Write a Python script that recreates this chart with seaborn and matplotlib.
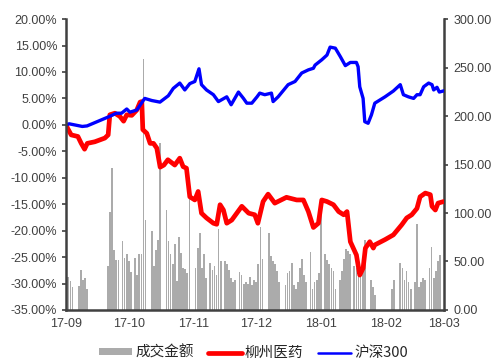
import numpy as np
import pandas as pd
import matplotlib
matplotlib.use('Agg')
import matplotlib.pyplot as plt
import matplotlib.dates as mdates
from matplotlib.patches import Patch
from matplotlib.lines import Line2D
from matplotlib.ticker import FuncFormatter, MultipleLocator
import seaborn as sns

# days counted from 2017-09-01
start = pd.Timestamp('2017-09-01')

bar_day = [0, 1, 2, 3, 6, 7, 8, 9, 10,
           20, 21, 22, 23, 24, 25, 27, 28, 29, 30, 31,
           33, 34, 35, 36, 37, 38, 41, 42, 43, 44, 45,
           48, 49, 50, 51, 52, 53, 54, 55, 56, 57, 58, 59,
           62, 63, 64, 65, 66, 67, 69, 70, 71, 72, 73, 74,
           76, 77, 78, 79, 80, 81, 83, 84, 85, 86, 87, 88,
           89, 90, 91, 92, 93, 94, 97, 98, 99, 100, 101, 102,
           105, 106, 107, 108, 109, 110, 111, 112, 113, 114, 115,
           117, 118, 119, 120, 121, 122, 124, 125, 126, 127, 128, 129,
           131, 132, 133, 134, 135, 136, 138, 139, 140, 141, 142, 143,
           146, 147, 148, 156, 157,
           160, 161, 162, 163, 164, 165, 167, 168, 169, 170, 171, 172,
           174, 175, 176, 177, 178, 179]
bar_vol = [36, 34, 30, 24, 25, 41, 31, 33, 22,
           45, 101, 146, 62, 52, 52, 71, 54, 58, 50, 39,
           54, 36, 58, 58, 259, 93, 81, 45, 62, 72, 172,
           103, 71, 58, 47, 68, 30, 75, 59, 43, 42, 38, 130,
           43, 64, 79, 43, 58, 33, 48, 41, 45, 36, 84, 50,
           51, 47, 41, 33, 29, 31, 39, 36, 27, 29, 27, 34,
           26, 31, 29, 47, 86, 53, 79, 56, 50, 47, 40, 29,
           26, 38, 40, 48, 26, 22, 29, 43, 53, 36, 29,
           60, 22, 29, 31, 38, 100, 58, 52, 47, 43, 40, 22,
           31, 40, 53, 63, 61, 58, 45, 43, 37, 36, 43, 72,
           31, 24, 15, 22, 31,
           48, 43, 31, 40, 29, 22, 29, 89, 24, 29, 33, 31,
           43, 65, 33, 40, 50, 57]

hs_day = [0, 1.4, 7.7, 10, 20.8, 24, 26.5, 29, 30.5, 33.8, 37.6, 41, 44.9, 48.9,
          51.3, 54.4, 56.8, 59.2, 61.6, 63.6, 64.8, 67.2, 70.5, 72.9, 76.9, 79,
          82.5, 84.9, 86.5, 88.9, 91.4, 92.7, 95.1, 98.3, 99.1, 101.5, 106.3,
          109.6, 112.8, 116, 118.4, 119.2, 122.4, 124.9, 126.4, 128.9, 131.3,
          133.7, 136.1, 139, 139.8, 140.6, 142.2, 143, 144.6, 146.2, 147.8,
          152.7, 156.7, 160, 161.5, 163.9, 166.4, 168, 169.5, 171.2, 173.6,
          175.2, 176, 177.6, 178.7, 181.5]
hs_pct = [0.0, 0.2, -0.3, -0.2, 1.6, 2.2, 2.2, 3.0, 2.4, 2.8, 5.0, 4.6, 4.3, 5.5,
          6.9, 7.9, 6.6, 7.8, 8.2, 10.6, 7.6, 6.6, 5.7, 4.4, 5.3, 3.8,
          6.2, 5.0, 4.1, 4.1, 5.3, 6.0, 5.7, 6.0, 4.4, 5.3, 7.6,
          8.2, 9.8, 10.4, 10.7, 11.3, 12.3, 13.2, 14.7, 14.5, 12.9,
          11.2, 11.8, 11.8, 11.0, 7.2, 5.0, 0.6, 0.3, 1.9, 4.1,
          5.3, 6.4, 7.6, 5.7, 5.3, 5.0, 5.7, 5.7, 7.2, 7.9,
          7.6, 6.6, 7.1, 6.2, 6.5]

lz_day = [0, 0.6, 2.4, 5.6, 7.2, 8.8, 10.1, 13.7, 18.5, 20.1, 20.9, 23.3, 25.7,
          27.5, 29, 31.4, 33.8, 35.4, 36.2, 36.7, 38.6, 40.2, 41.8, 43.4, 45,
          46.8, 48.7, 52, 54.4, 56, 57.6, 59.2, 61.6, 63.2, 64.8, 67.2, 70.5,
          72.1, 73.7, 75.3, 76.9, 79.3, 84.1, 87.4, 90.3, 91.8, 94.3, 96.7,
          99.9, 105.5, 110.4, 113.6, 116, 118.4, 120.8, 122.4, 124.9, 128,
          130.5, 132.9, 134.5, 136.1, 139, 140.6, 142.2, 143.3, 145.4, 147.1,
          147.8, 152.7, 156.7, 160.7, 163.1, 165.5, 168, 169.5, 172, 174.4,
          175.2, 176.8, 178.1, 180.8]
lz_pct = [0.0, -0.6, -1.9, -2.2, -3.5, -4.6, -3.5, -3.2, -2.5, -1.9, 1.9, 2.2, 1.6,
          0.7, 1.9, 1.8, 2.8, 4.3, 4.4, -0.9, -1.6, -3.5, -3.5, -4.4, -8.0,
          -7.6, -6.6, -7.6, -6.3, -7.9, -8.2, -13.6, -14.2, -12.6, -16.7, -17.6, -18.6,
          -18.8, -15.1, -16.1, -18.6, -18.0, -15.4, -16.7, -17.0, -18.6, -14.5, -13.1,
          -14.8, -13.7, -14.2, -14.2, -16.4, -19.4, -18.6, -14.2, -14.5, -15.1,
          -16.4, -17.0, -16.4, -22.1, -24.6, -28.4, -27.1, -23.3, -22.1, -23.3,
          -22.7, -21.7, -20.8, -18.9, -17.6, -17.0, -15.8, -13.6, -12.9, -13.2,
          -15.4, -16.1, -14.8, -14.5]

month_ticks = ['2017-09-01', '2017-10-01', '2017-11-01', '2017-12-01',
               '2018-01-01', '2018-02-01', '2018-03-01']


def to_dates(days):
    return start + pd.to_timedelta(np.array(days), unit='D')


bars = pd.DataFrame({'date': to_dates(bar_day), 'vol': bar_vol})
hs = pd.DataFrame({'date': to_dates(hs_day), 'pct': np.array(hs_pct) / 100})
lz = pd.DataFrame({'date': to_dates(lz_day), 'pct': np.array(lz_pct) / 100})

sns.set_style('white')
plt.rcParams['font.family'] = ['Liberation Sans', 'DejaVu Sans']

fig = plt.figure(figsize=(4.94, 3.6), dpi=100)
ax = fig.add_axes([0.134, 0.139, 0.765, 0.808])
ax2 = ax.twinx()

ax2.bar(bars['date'], bars['vol'], width=0.8, color='#ababab', linewidth=0)

sns.lineplot(x='date', y='pct', data=lz, ax=ax, color='#ff0000', linewidth=3.4,
             estimator=None, sort=False)
sns.lineplot(x='date', y='pct', data=hs, ax=ax, color='#0000ff', linewidth=2.4,
             estimator=None, sort=False)

ax.set_zorder(ax2.get_zorder() + 1)
ax.patch.set_visible(False)

ax.set_ylim(-0.35, 0.20)
ax.yaxis.set_major_locator(MultipleLocator(0.05))
ax.yaxis.set_major_formatter(FuncFormatter(lambda v, p: '%.2f%%' % (v * 100)))
ax2.set_ylim(0, 300)
ax2.yaxis.set_major_locator(MultipleLocator(50))
ax2.yaxis.set_major_formatter(FuncFormatter(lambda v, p: '%.2f' % v))

ticks = pd.to_datetime(month_ticks)
ax.set_xlim(ticks[0], ticks[-1])
ax.set_xticks(ticks)
ax.xaxis.set_major_formatter(mdates.DateFormatter('%y-%m'))
ax.set_xlabel('')
ax.set_ylabel('')
ax2.set_ylabel('')

spine_col = '#404040'
for a in (ax, ax2):
    for s in a.spines.values():
        s.set_visible(False)
ax.spines['left'].set_visible(True)
ax.spines['bottom'].set_visible(True)
ax2.spines['right'].set_visible(True)
for s in (ax.spines['left'], ax.spines['bottom'], ax2.spines['right']):
    s.set_color(spine_col)
    s.set_linewidth(1.8)

ax.tick_params(axis='both', which='major', length=3, width=1.2, color=spine_col,
               labelsize=9, labelcolor='#404040', direction='out')
ax.tick_params(axis='x', pad=3)
ax2.tick_params(axis='y', length=3, width=1.2, color=spine_col, labelsize=9,
                labelcolor='#404040', direction='out')

handles = [Patch(facecolor='#ababab', edgecolor='none'),
           Line2D([0], [0], color='#ff0000', linewidth=3.4),
           Line2D([0], [0], color='#0000ff', linewidth=1.8)]
labels = ['成交金额', '柳州医药', '沪深300']
fig.legend(handles, labels, loc='center', bbox_to_anchor=(0.513, 0.02),
           ncol=3, frameon=False, handlelength=2.3, handleheight=0.35,
           columnspacing=1.0, handletextpad=0.2,
           prop={'family': ['Noto Sans CJK SC', 'DejaVu Sans'], 'size': 10.5})

fig.savefig('out.png', dpi=100)
